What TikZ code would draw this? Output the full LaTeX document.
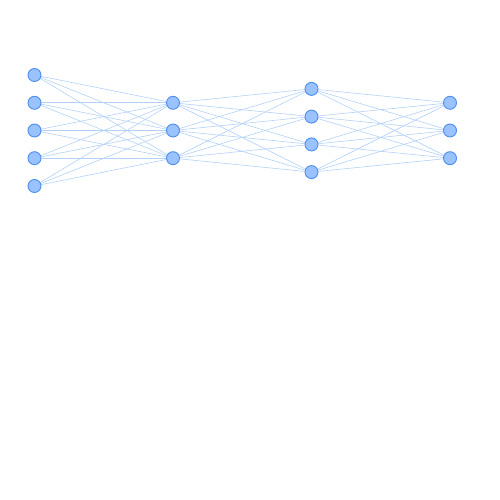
\documentclass[tikz,border=0pt]{standalone}
\definecolor{nfill}{HTML}{99C2FF}
\definecolor{nline}{HTML}{4D8FEA}
\definecolor{eline}{HTML}{B3D1F7}
\begin{document}
\begin{tikzpicture}[x=1pt,y=1pt,
  neuron/.style={circle,draw=nline,fill=nfill,line width=0.9pt,minimum size=13pt,inner sep=0pt},
  edge/.style={draw=eline,line width=0.6pt}]
\useasboundingbox (0,0) rectangle (500,500);
\foreach \i/\y in {1/74.5,2/102.3,3/130,4/157.7,5/185.5} \coordinate (a\i) at (34.5,499.5-\y);
\foreach \i/\y in {1/102.3,2/130,3/157.7} \coordinate (b\i) at (173,499.5-\y);
\foreach \i/\y in {1/88.4,2/116.1,3/143.9,4/171.6} \coordinate (c\i) at (311.5,499.5-\y);
\foreach \i/\y in {1/102.3,2/130,3/157.7} \coordinate (d\i) at (450,499.5-\y);
\foreach \i in {1,...,5} \foreach \j in {1,2,3} \draw[edge] (a\i) -- (b\j);
\foreach \i in {1,2,3} \foreach \j in {1,...,4} \draw[edge] (b\i) -- (c\j);
\foreach \i in {1,...,4} \foreach \j in {1,2,3} \draw[edge] (c\i) -- (d\j);
\foreach \i in {1,...,5} \node[neuron] (na\i) at (a\i) {};
\foreach \i in {1,2,3} \node[neuron] (nb\i) at (b\i) {};
\foreach \i in {1,...,4} \node[neuron] (nc\i) at (c\i) {};
\foreach \i in {1,2,3} \node[neuron] (nd\i) at (d\i) {};
\end{tikzpicture}
\end{document}
